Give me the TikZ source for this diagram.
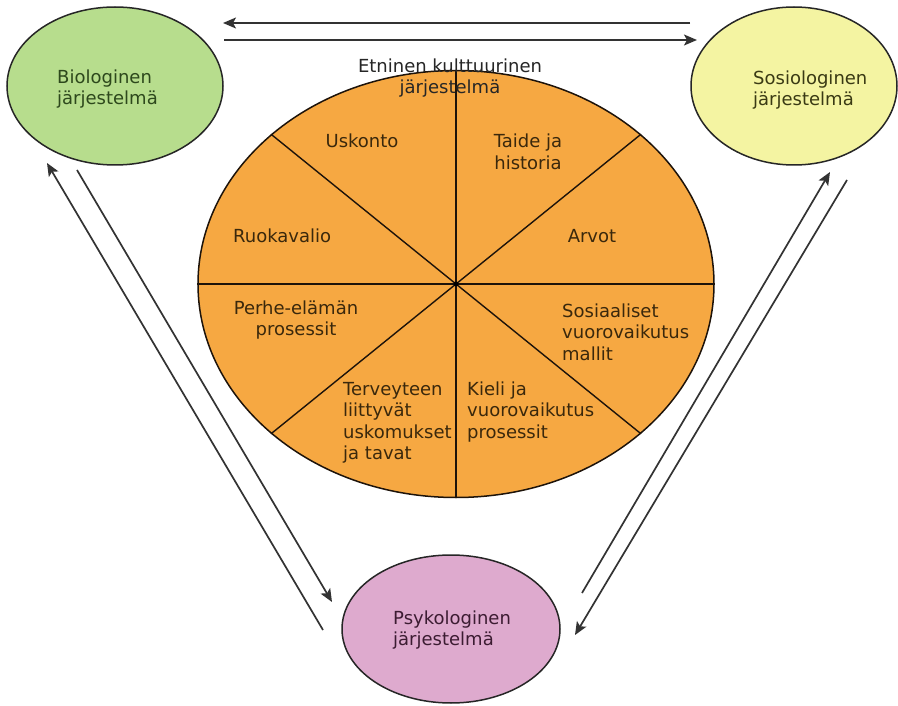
\documentclass[tikz,border=0pt]{standalone}
\usepackage{fontspec}
\setmainfont{DejaVu Sans}
\usetikzlibrary{shapes.geometric,arrows.meta}
\definecolor{bioF}{RGB}{183,221,141}
\definecolor{sosF}{RGB}{244,244,162}
\definecolor{psyF}{RGB}{222,170,206}
\definecolor{pieF}{RGB}{246,168,66}
\definecolor{pieT}{RGB}{58,40,12}
\definecolor{bioT}{RGB}{45,72,28}
\definecolor{sosT}{RGB}{58,58,20}
\definecolor{psyT}{RGB}{60,28,50}
\tikzset{
  sysbox/.style={ellipse, draw=black!85, line width=1.5pt, inner sep=0pt},
  txt/.style={inner sep=0pt, font=\fontsize{18}{21.5}\selectfont},
  pietxt/.style={txt, text=pieT},
  spoke/.style={draw=black!85!brown, line width=1.4pt},
  conn/.style={draw=black!80, line width=1.7pt, -{Stealth[length=13pt,width=11pt,inset=3pt]}},
}
\begin{document}
\begin{tikzpicture}[x=1pt,y=-1pt]
\useasboundingbox (0,0) rectangle (898,706);
\fill[white] (0,0) rectangle (898,706);
% outer systems
\node[sysbox, fill=bioF, minimum width=216pt, minimum height=158pt] (bio) at (115,86) {};
\node[sysbox, fill=sosF, minimum width=206pt, minimum height=158pt] (sos) at (794,86) {};
\node[sysbox, fill=psyF, minimum width=218pt, minimum height=148pt] (psy) at (451,629) {};
\node[txt, text=bioT, align=left, anchor=west] (biot) at (57,89) {Biologinen\\järjestelmä};
\node[txt, text=sosT, align=left, anchor=west] (sost) at (753,90) {Sosiologinen\\järjestelmä};
\node[txt, text=psyT, align=left, anchor=west] (psyt) at (393,630) {Psykologinen\\järjestelmä};
% pie
\node[ellipse, draw=black!85!brown, line width=1.5pt, fill=pieF, inner sep=0pt,
      minimum width=516pt, minimum height=427pt] (pie) at (456,284) {};
\path[spoke] (pie.center) -- (pie.north);
\path[spoke] (pie.center) -- (pie.south);
\path[spoke] (pie.center) -- (pie.east);
\path[spoke] (pie.center) -- (pie.west);
\path[spoke] (pie.center) -- (pie.39);
\path[spoke] (pie.center) -- (pie.141);
\path[spoke] (pie.center) -- (pie.219);
\path[spoke] (pie.center) -- (pie.321);
\fill[black] (pie.center) circle (2.4pt);
\node[txt, text=black!85, align=center] (title) at (450,78) {Etninen kulttuurinen\\järjestelmä};
\node[pietxt] (usk) at (362,141) {Uskonto};
\node[pietxt, align=center] (tai) at (528,152) {Taide ja\\historia};
\node[pietxt, anchor=west] (ruo) at (233,236) {Ruokavalio};
\node[pietxt] (arv) at (592,236) {Arvot};
\node[pietxt, align=center] (per) at (296,320) {Perhe-elämän\\prosessit};
\node[pietxt, align=left, anchor=west] (sosv) at (562,332) {Sosiaaliset\\vuorovaikutus\\mallit};
\node[pietxt, align=left, anchor=west] (ter) at (343,423) {Terveyteen\\liittyvät\\uskomukset\\ja tavat};
\node[pietxt, align=left, anchor=west] (kie) at (467,412) {Kieli ja\\vuorovaikutus\\prosessit};
% connector ends
\coordinate (t1s) at (690,23); \coordinate (t1e) at (223,23);
\coordinate (t2s) at (224,40); \coordinate (t2e) at (697,40);
\coordinate (l1s) at (323,630); \coordinate (l1e) at (47,163);
\coordinate (l2s) at (77,170); \coordinate (l2e) at (332,602);
\coordinate (r1s) at (582,593); \coordinate (r1e) at (830,172);
\coordinate (r2s) at (847,180); \coordinate (r2e) at (575,635);
\path[conn] (t1s) -- (t1e);
\path[conn] (t2s) -- (t2e);
\path[conn] (l1s) -- (l1e);
\path[conn] (l2s) -- (l2e);
\path[conn] (r1s) -- (r1e);
\path[conn] (r2s) -- (r2e);
\end{tikzpicture}
\end{document}
